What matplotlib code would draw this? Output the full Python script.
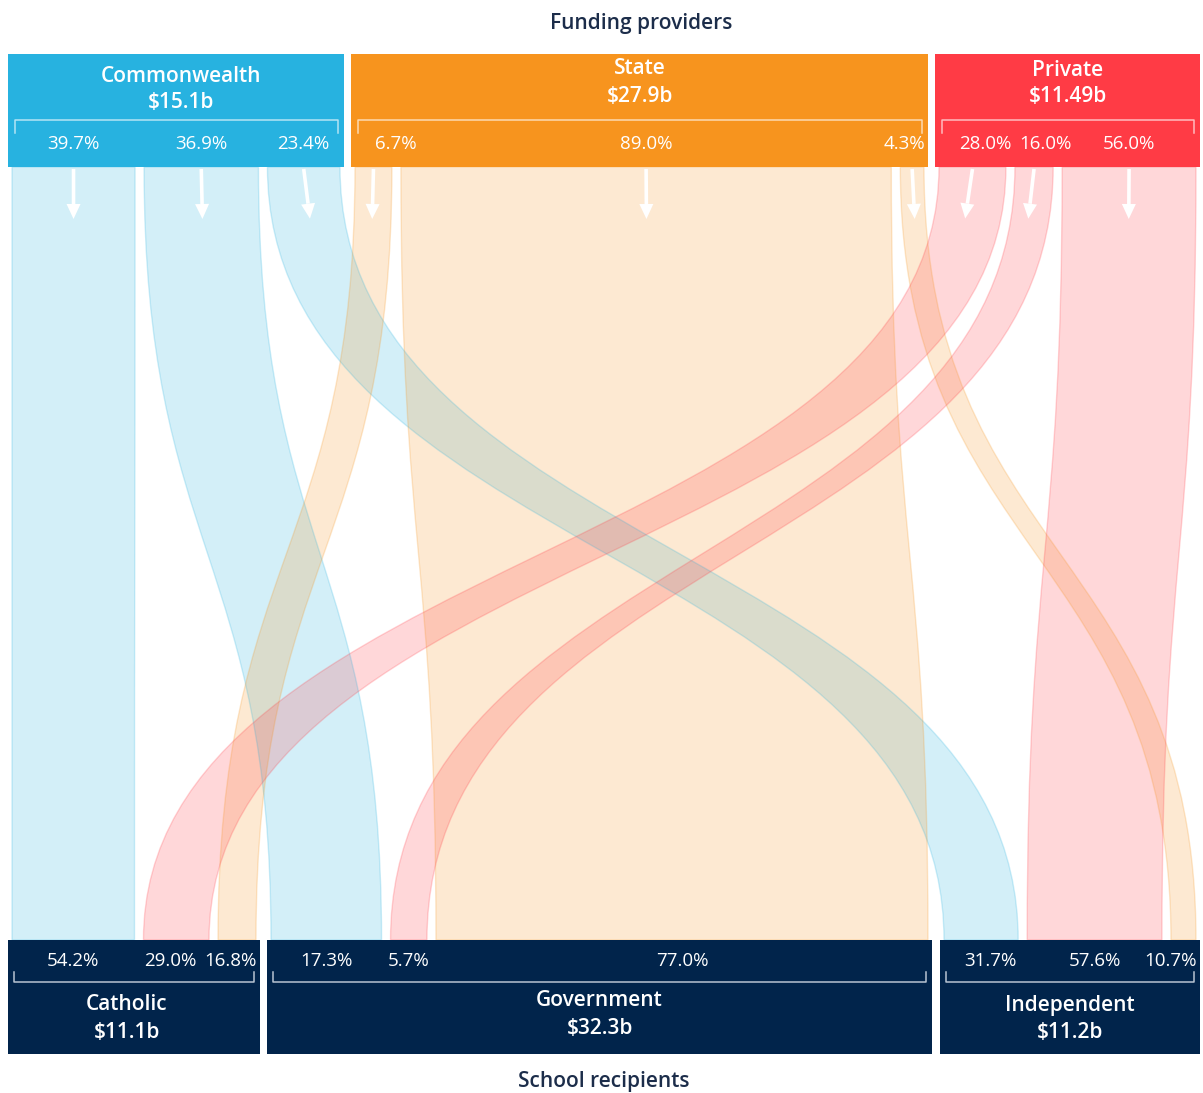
import numpy as np
import matplotlib
matplotlib.use("Agg")
import matplotlib.pyplot as plt
from matplotlib.path import Path
from matplotlib.patches import PathPatch, Rectangle, Polygon

plt.rcParams["font.family"] = ["Open Sans", "DejaVu Sans"]

# ---- data -------------------------------------------------------------
providers = ["Commonwealth", "State", "Private"]
provider_amounts = ["$15.1b", "$27.9b", "$11.49b"]
recipients = ["Catholic", "Government", "Independent"]
recipient_amounts = ["$11.1b", "$32.3b", "$11.2b"]

# share (%) of each provider's money going to Catholic, Government, Independent
commonwealth_split = [39.7, 36.9, 23.4]
state_split = [6.7, 89.0, 4.3]
private_split = [28.0, 16.0, 56.0]

# share (%) of each sector's money coming from Commonwealth, Private, State
recipient_source_order = ["Commonwealth", "Private", "State"]
catholic_sources = [54.2, 29.0, 16.8]
government_sources = [17.3, 5.7, 77.0]
independent_sources = [31.7, 57.6, 10.7]

provider_splits = [commonwealth_split, state_split, private_split]
recipient_sources = [catholic_sources, government_sources, independent_sources]

# ---- layout (figure pixels) ---------------------------------------------
W, H = 1203, 1093
top_spans = [(8, 344), (351, 928), (935, 1200)]
bottom_spans = [(8, 260), (267, 932), (940, 1200)]
TOP_Y0, TOP_Y1 = 54, 167
BOT_Y0, BOT_Y1 = 940, 1054
PAD, GAP = 4, 9

colors = {"Commonwealth": "#27b2e0", "State": "#f7941e", "Private": "#ff3b45"}
NAVY = "#01244b"
TITLE_COLOR = "#1c2d4a"

fig = plt.figure(figsize=(W / 100, H / 100), dpi=100)
ax = fig.add_axes([0, 0, 1, 1])
ax.set_xlim(0, W)
ax.set_ylim(H, 0)
ax.axis("off")


def segments(span, shares):
    a, b = span
    usable = (b - a) - 2 * PAD - GAP * (len(shares) - 1)
    total = float(sum(shares))
    out, x = [], a + PAD
    for s in shares:
        w = usable * s / total
        out.append((x, x + w))
        x += w + GAP
    return out


top_segs = [segments(sp, sh) for sp, sh in zip(top_spans, provider_splits)]
bot_segs = [segments(sp, sh) for sp, sh in zip(bottom_spans, recipient_sources)]

# ---- ribbons --------------------------------------------------------------
yt, yb = TOP_Y1, BOT_Y0
ym = (yt + yb) / 2
ribbon_info = []
for pi, pname in enumerate(providers):
    for ri, rname in enumerate(recipients):
        l0, r0 = top_segs[pi][ri]
        l1, r1 = bot_segs[ri][recipient_source_order.index(pname)]
        verts = [(l0, yt), (l0, ym), (l1, ym), (l1, yb),
                 (r1, yb), (r1, ym), (r0, ym), (r0, yt), (l0, yt)]
        codes = [Path.MOVETO, Path.CURVE4, Path.CURVE4, Path.CURVE4,
                 Path.LINETO, Path.CURVE4, Path.CURVE4, Path.CURVE4,
                 Path.CLOSEPOLY]
        c = colors[pname]
        ax.add_patch(PathPatch(Path(verts, codes), facecolor=c, alpha=0.2,
                               edgecolor="none", zorder=1))
        ax.add_patch(PathPatch(Path(verts, codes), facecolor="none",
                               edgecolor=c, alpha=0.22, lw=1.0, zorder=1.1))
        ribbon_info.append(((l0 + r0) / 2, (l1 + r1) / 2))

# ---- arrows at the top of each ribbon ---------------------------------------
t = 0.07
for x0, x1 in ribbon_info:
    d = x1 - x0
    dy = (yb - yt) * (1.5 * t * (1 - t) + t ** 3)
    dx = d * (3 * t ** 2 - 2 * t ** 3)
    L = 50.0
    ux, uy = dx / np.hypot(dx, dy), dy / np.hypot(dx, dy)
    sx, sy = x0, yt + 2
    ex, ey = sx + ux * L, sy + uy * L
    hl, hw = 15, 7
    bx, by = ex - ux * hl, ey - uy * hl
    ax.plot([sx, bx], [sy, by], color="white", lw=2.6, solid_capstyle="butt", zorder=3)
    ax.add_patch(Polygon([(ex, ey), (bx - uy * hw, by + ux * hw), (bx + uy * hw, by - ux * hw)],
                         closed=True, facecolor="white", edgecolor="none", zorder=3))

fig.canvas.draw()
renderer = fig.canvas.get_renderer()


def place_labels(centers, y, texts, span):
    """Percent labels centred on their ribbons, kept inside the box and apart."""
    a, b = span
    lo_margin, hi_margin, min_gap = 24, 3, 8
    items = []
    for x, s in zip(centers, texts):
        txt = ax.text(x, y, s, ha="center", va="center", color="white",
                      fontsize=13.5, fontweight="medium", zorder=5)
        half = txt.get_window_extent(renderer).width / 2
        items.append([txt, x, half])
    for it in items:
        it[1] = max(it[1], a + lo_margin + it[2])
    # sweep right: keep labels apart
    for i in range(1, len(items)):
        p, c = items[i - 1], items[i]
        c[1] = max(c[1], p[1] + p[2] + min_gap + c[2])
    # sweep left: keep inside right edge and apart
    items[-1][1] = min(items[-1][1], b - hi_margin - items[-1][2])
    for i in range(len(items) - 2, -1, -1):
        p, c = items[i], items[i + 1]
        p[1] = min(p[1], c[1] - c[2] - min_gap - p[2])
    for it in items:
        it[0].set_x(it[1])


# ---- provider boxes --------------------------------------------------------
title_y = [(76, 102), (69, 96), (70, 97)]
title_dx = [5, 0, 0]
for pi, (pname, amt) in enumerate(zip(providers, provider_amounts)):
    a, b = top_spans[pi]
    ax.add_patch(Rectangle((a, TOP_Y0), b - a, TOP_Y1 - TOP_Y0,
                           facecolor=colors[pname], edgecolor="none", zorder=4))
    cx = (a + b) / 2 + title_dx[pi]
    ax.text(cx, title_y[pi][0], pname, ha="center", va="center", color="white",
            fontsize=15, fontweight="semibold", zorder=5)
    ax.text(cx, title_y[pi][1], amt, ha="center", va="center", color="white",
            fontsize=15, fontweight="semibold", zorder=5)
    # bracket
    bl, br = a + 7, b - 6
    ax.plot([bl, bl, br, br], [133, 120, 120, 133], color="white", alpha=0.65,
            lw=1.1, zorder=5)
    place_labels([(l + r) / 2 for l, r in top_segs[pi]], 144,
                 [f"{v:.1f}%" for v in provider_splits[pi]], top_spans[pi])

# ---- recipient boxes -----------------------------------------------------
rec_title_y = [(1004, 1032), (1001, 1028), (1006, 1033)]
rec_dx = [-7, 0, 0]
for ri, (rname, amt) in enumerate(zip(recipients, recipient_amounts)):
    a, b = bottom_spans[ri]
    ax.add_patch(Rectangle((a, BOT_Y0), b - a, BOT_Y1 - BOT_Y0,
                           facecolor=NAVY, edgecolor="none", zorder=4))
    cx = (a + b) / 2 + rec_dx[ri]
    ax.text(cx, rec_title_y[ri][0], rname, ha="center",
            va="center", color="white", fontsize=15, fontweight="semibold", zorder=5)
    ax.text(cx, rec_title_y[ri][1], amt, ha="center",
            va="center", color="white", fontsize=15, fontweight="semibold", zorder=5)
    bl, br = a + 6, b - 6
    ax.plot([bl, bl, br, br], [972, 982, 982, 972], color="#b8c4d2",
            lw=1.1, zorder=5)
    place_labels([(l + r) / 2 for l, r in bot_segs[ri]], 961,
                 [f"{v:.1f}%" for v in recipient_sources[ri]], bottom_spans[ri])

ax.text(641, 23, "Funding providers", ha="center", va="center",
        color=TITLE_COLOR, fontsize=15, fontweight="semibold")
ax.text(604, 1081, "School recipients", ha="center", va="center",
        color=TITLE_COLOR, fontsize=15, fontweight="semibold")

fig.savefig("out.png", dpi=100)
